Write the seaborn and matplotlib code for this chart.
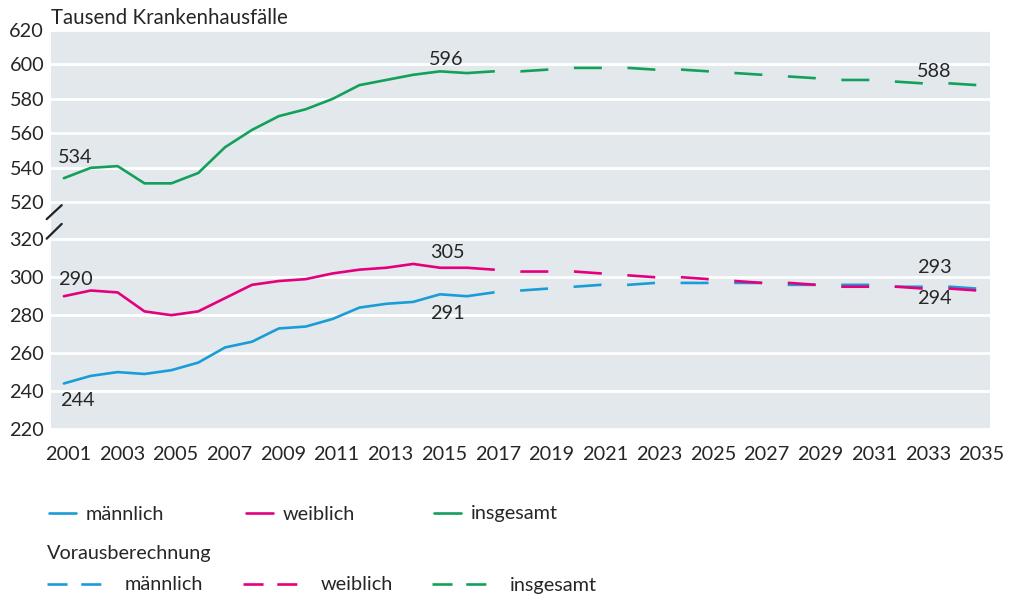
import numpy as np
import matplotlib
matplotlib.use("Agg")
import matplotlib.pyplot as plt
from matplotlib.lines import Line2D
from matplotlib.transforms import ScaledTranslation
import seaborn as sns

# --- data (thousand hospital cases) ---
years_obs = list(range(2001, 2017))
years_proj = list(range(2016, 2036))

male_obs = [244, 248, 250, 249, 251, 255, 263, 266, 273, 274, 278, 284, 286, 287, 291, 290]
female_obs = [290, 293, 292, 282, 280, 282, 289, 296, 298, 299, 302, 304, 305, 307, 305, 305]
total_obs = [534, 540, 541, 531, 531, 537, 552, 562, 570, 574, 580, 588, 591, 594, 596, 595]

male_proj = [290, 292, 293, 294, 295, 296, 296, 297, 297, 297,
             297, 297, 296, 296, 296, 296, 295, 295, 295, 294]
female_proj = [305, 304, 303, 303, 303, 302, 301, 300, 300, 299,
               298, 297, 297, 296, 295, 295, 295, 294, 294, 293]
total_proj = [595, 596, 596, 597, 598, 598, 598, 597, 597, 596,
              595, 594, 593, 592, 591, 591, 590, 589, 589, 588]

y_ticks = [220, 240, 260, 280, 300, 320, 520, 540, 560, 580, 600, 620]
x_ticks = list(range(2001, 2036, 2))

c_male = "#1a9dd6"
c_female = "#e4007d"
c_total = "#13a05b"
txt = "#262626"
fs = 14.3

sns.set_style("white")
plt.rcParams['font.family'] = ['Lato', 'DejaVu Sans']

# broken y axis: piecewise linear mapping (values -> screen units)
brk_v = np.array([220.0, 320.0, 520.0, 620.0])
brk_s = np.array([0.0, 189.7, 226.7, 399.0])


def fwd(v):
    return np.interp(np.asarray(v, dtype=float), brk_v, brk_s)


def inv(s):
    return np.interp(np.asarray(s, dtype=float), brk_s, brk_v)


fig = plt.figure(figsize=(10.19, 5.99), dpi=100)
ax = fig.add_axes([51 / 1019, 1 - 429 / 599, 939 / 1019, 399 / 599])
ax.set_facecolor("#e3e8ec")
ax.set_yscale("function", functions=(fwd, inv))

lw = 1.9
dash = (0, (10.6, 9.7))
sns.lineplot(x=years_obs, y=male_obs, color=c_male, lw=lw, ax=ax)
sns.lineplot(x=years_obs, y=female_obs, color=c_female, lw=lw, ax=ax)
sns.lineplot(x=years_obs, y=total_obs, color=c_total, lw=lw, ax=ax)
sns.lineplot(x=years_proj, y=male_proj, color=c_male, lw=lw, linestyle=dash, ax=ax)
sns.lineplot(x=years_proj, y=female_proj, color=c_female, lw=lw, linestyle=dash, ax=ax)
sns.lineplot(x=years_proj, y=total_proj, color=c_total, lw=lw, linestyle=dash, ax=ax)

ax.set_xlim(2000.52, 2035.47)
ax.set_ylim(220, 620)
ax.set_yticks(y_ticks)
ax.set_yticklabels([str(t) for t in y_ticks])
ax.set_xticks(x_ticks)
ax.set_xticklabels([str(t) for t in x_ticks])
ax.tick_params(axis="both", length=0, labelsize=fs, colors=txt)
ax.tick_params(axis="y", pad=5)
ax.tick_params(axis="x", pad=12)
shift = ScaledTranslation(4 / 100, 0, fig.dpi_scale_trans)
for t in ax.get_xticklabels():
    t.set_transform(t.get_transform() + shift)
ax.yaxis.grid(True, color="white", lw=2)
ax.xaxis.grid(False)
ax.set_axisbelow(True)
for s in ax.spines.values():
    s.set_visible(False)
ax.set_xlabel("")
ax.set_ylabel("")

# break marks
for y0, y1 in [(0.526, 0.561), (0.477, 0.514)]:
    ax.plot([-0.0046, 0.0114], [y0, y1], transform=ax.transAxes, color="#222222",
            lw=1.6, clip_on=False)


# value labels
def lab(x, y, dx, dy):
    ax.annotate(str(y), xy=(x, y), xytext=(dx, dy), textcoords="offset pixels",
                ha="center", va="center", fontsize=fs, color=txt)


lab(years_obs[0], total_obs[0], 11, 21)
lab(2015, total_obs[14], 6, 12)
lab(years_proj[-1], total_proj[-1], -43, 14)
lab(years_obs[0], female_obs[0], 11, 17)
lab(years_obs[0], male_obs[0], 13, -17)
lab(2015, female_obs[14], 7, 15)
lab(2015, male_obs[14], 7, -19)
lab(years_proj[-1], female_proj[-1], -43, 23)
lab(years_proj[-1], male_proj[-1], -43, -10)

fig.text(51 / 1019, 1 - 18 / 599, "Tausend Krankenhausfälle", ha="left", va="center",
         fontsize=14.8, color=txt)

# legends: one small legend per entry so the columns sit where they should
names = ["männlich", "weiblich", "insgesamt"]
cols = [c_male, c_female, c_total]
row1_x = [49, 246, 434]
row3_x = [47, 243, 432]
for name, c, x in zip(names, cols, row1_x):
    fig.legend([Line2D([], [], color=c, lw=lw)], [name], loc="center left",
               bbox_to_anchor=(x / 1019, 1 - 514 / 599), frameon=False, fontsize=fs,
               handlelength=1.36, handletextpad=0.5, borderpad=0, borderaxespad=0,
               labelcolor=txt)
for name, c, x in zip(names, cols, row3_x):
    fig.legend([Line2D([], [], color=c, lw=lw, linestyle=(0, (7.6, 5.2)))], [name],
               loc="center left", bbox_to_anchor=(x / 1019, 1 - 585 / 599), frameon=False,
               fontsize=fs, handlelength=2.72, handletextpad=1.2, borderpad=0,
               borderaxespad=0, labelcolor=txt)
fig.text(47 / 1019, 1 - 554 / 599, "Vorausberechnung", ha="left", va="center",
         fontsize=fs, color=txt)

fig.savefig("out.png", dpi=100)
